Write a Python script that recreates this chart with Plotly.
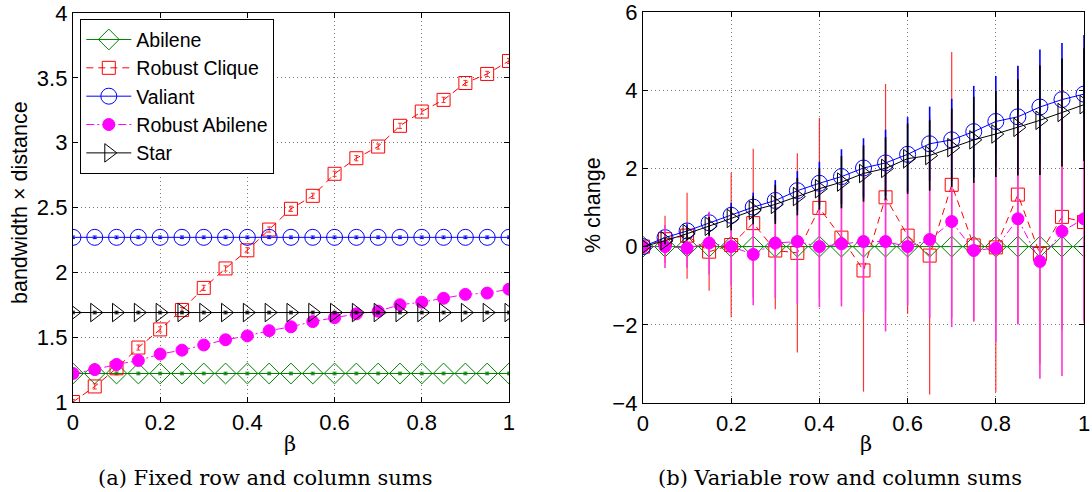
import plotly.graph_objects as go

# beta values (x axis, both panels)
beta = [0, 0.05, 0.1, 0.15, 0.2, 0.25, 0.3, 0.35, 0.4, 0.45, 0.5,
        0.55, 0.6, 0.65, 0.7, 0.75, 0.8, 0.85, 0.9, 0.95, 1.0]

names = ["Abilene", "Robust Clique", "Valiant", "Robust Abilene", "Star"]

# (a) fixed row and column sums: bandwidth x distance
fixed_abilene = [1.22] * 21
fixed_clique = [1.00, 1.12, 1.26, 1.42, 1.56, 1.71, 1.88, 2.03, 2.17, 2.33, 2.49,
                2.59, 2.76, 2.88, 2.97, 3.13, 3.24, 3.33, 3.46, 3.53, 3.63]
fixed_valiant = [2.27] * 21
fixed_robust_abilene = [1.22, 1.25, 1.29, 1.32, 1.37, 1.40, 1.44, 1.48, 1.51, 1.55, 1.58,
                        1.62, 1.65, 1.68, 1.70, 1.75, 1.77, 1.80, 1.83, 1.84, 1.87]
fixed_star = [1.69] * 21
fixed_err_clique = [0.02] * 21
fixed_err_small = [0.01] * 21

# (b) variable row and column sums: % change
var_abilene = [0] * 21
var_clique = [0, 0.19, 0.28, -0.13, 0.04, 0.60, -0.10, -0.16, 0.99, 0.23, -0.61,
              1.26, 0.28, -0.23, 1.58, 0.03, -0.02, 1.33, -0.19, 0.76, 0.63]
var_valiant = [0, 0.23, 0.40, 0.61, 0.80, 1.01, 1.18, 1.43, 1.62, 1.79, 2.01,
               2.14, 2.36, 2.63, 2.73, 2.94, 3.20, 3.32, 3.57, 3.76, 3.90]
var_robust_abilene = [0, 0.0, -0.04, 0.09, 0.0, -0.20, 0.09, 0.13, 0.0, 0.07, 0.13,
                      0.13, 0.0, 0.18, 0.64, -0.10, -0.04, 0.71, -0.38, 0.39, 0.71]
var_star = [0, 0.15, 0.33, 0.52, 0.72, 0.93, 1.08, 1.28, 1.48, 1.65, 1.87,
            2.00, 2.25, 2.33, 2.53, 2.73, 2.88, 3.05, 3.23, 3.43, 3.63]

err_clique = [0, 0.6, 1.1, 1.0, 1.85, 1.9, 1.5, 2.55, 2.3, 1.6, 3.1,
              2.9, 2.0, 3.55, 3.4, 1.95, 3.7, 3.3, 2.8, 2.9, 2.6]
err_valiant = [0, 0.10, 0.17, 0.25, 0.32, 0.37, 0.52, 0.50, 0.55, 0.70, 0.76,
               0.85, 0.95, 0.95, 1.05, 1.17, 1.16, 1.30, 1.47, 1.45, 1.51]
err_robust_abilene = [0, 0.55, 0.5, 0.8, 1.0, 1.3, 1.4, 1.6, 1.55, 1.6, 1.8,
                      2.3, 1.5, 2.0, 2.7, 1.8, 2.4, 2.7, 3.0, 3.7, 2.6]
err_star = [0, 0.09, 0.16, 0.24, 0.30, 0.36, 0.50, 0.48, 0.53, 0.67, 0.72,
            0.80, 0.90, 0.90, 1.00, 1.10, 1.10, 1.23, 1.40, 1.38, 1.44]

styles = [
    dict(color="#008000", symbol="diamond-open", size=16, dash="solid", ecol="#008000", et=1.6),
    dict(color="#ff0000", symbol="square-open", size=13, dash="7px,5px", ecol="rgba(255,0,0,0.8)", et=1.2),
    dict(color="#0000ff", symbol="circle-open", size=16, dash="solid", ecol="#0000ff", et=1.6),
    dict(color="#ff00ff", symbol="circle", size=12, dash="8px,3px,2px,3px", ecol="#ff33dd", et=1.6),
    dict(color="#000000", symbol="triangle-right-open", size=16, dash="solid", ecol="#000000", et=1.6),
]

fixed = [fixed_abilene, fixed_clique, fixed_valiant, fixed_robust_abilene, fixed_star]
fixed_err = [fixed_err_small, fixed_err_clique, fixed_err_small, fixed_err_small, fixed_err_small]
var = [var_abilene, var_clique, var_valiant, var_robust_abilene, var_star]
var_err = [[0] * 21, err_clique, err_valiant, err_robust_abilene, err_star]

SANS = "Liberation Sans, Arial"
SERIF = "DejaVu Serif"

fig = go.Figure()

for i in range(5):
    s = styles[i]
    fig.add_trace(go.Scatter(
        x=beta, y=fixed[i], name=names[i], mode="lines+markers",
        line=dict(color=s["color"], width=1, dash=s["dash"]),
        marker=dict(symbol=s["symbol"], size=s["size"], color=s["color"],
                    line=dict(color=s["color"], width=1)),
        error_y=dict(type="data", array=fixed_err[i], color=s["ecol"], thickness=1, width=2),
        xaxis="x", yaxis="y", showlegend=True))

for i in range(5):
    s = styles[i]
    fig.add_trace(go.Scatter(
        x=beta, y=var[i], name=names[i], mode="lines+markers",
        line=dict(color=s["color"], width=1, dash=s["dash"]),
        marker=dict(symbol=s["symbol"], size=s["size"], color=s["color"],
                    line=dict(color=s["color"], width=1)),
        error_y=dict(type="data", array=var_err[i], color=s["ecol"], thickness=s["et"], width=0),
        xaxis="x2", yaxis="y2", showlegend=False))

axis_common = dict(
    showline=True, linecolor="black", linewidth=1.3, mirror="ticks",
    ticks="inside", ticklen=5, tickcolor="black",
    showgrid=True, gridcolor="#777777", griddash="1px,3px", gridwidth=1,
    zeroline=False, ticklabeloverflow="allow",
    tickfont=dict(family=SANS, size=22, color="black"),
)

fig.update_layout(
    width=1092, height=492,
    margin=dict(l=0, r=0, t=0, b=0, autoexpand=False),
    paper_bgcolor="white", plot_bgcolor="white",
    xaxis=dict(domain=[0.0668, 0.4661], range=[0, 1], tickvals=[0, 0.2, 0.4, 0.6, 0.8, 1],
               ticktext=["0", "0.2", "0.4", "0.6", "0.8", "1"], anchor="y", **axis_common),
    yaxis=dict(domain=[0.1829, 0.9736], range=[1, 4], tickvals=[1, 1.5, 2, 2.5, 3, 3.5, 4],
               ticktext=["1", "1.5", "2", "2.5", "3", "3.5", "4"], anchor="x", **axis_common),
    xaxis2=dict(domain=[0.5888, 0.9927], range=[0, 1], tickvals=[0, 0.2, 0.4, 0.6, 0.8, 1],
                ticktext=["0", "0.2", "0.4", "0.6", "0.8", "1"], anchor="y2", **axis_common),
    yaxis2=dict(domain=[0.1809, 1 - 12 / 492], range=[-4, 6], tickvals=[-4, -2, 0, 2, 4, 6],
                anchor="x2", **axis_common),
    legend=dict(x=80 / 1092, y=1 - 19 / 492, xanchor="left", yanchor="top",
                bgcolor="white", bordercolor="black", borderwidth=1.3,
                font=dict(family=SANS, size=19.5, color="black"),
                tracegroupgap=0, itemwidth=45),
    annotations=[
        dict(text="bandwidth × distance", x=20 / 1092, y=1 - 203 / 492, xref="paper", yref="paper",
             xanchor="center", yanchor="middle", textangle=-90, showarrow=False,
             font=dict(family=SANS, size=21.5, color="black")),
        dict(text="β", x=290 / 1092, y=1 - 444 / 492, xref="paper", yref="paper",
             xanchor="center", yanchor="middle",
             showarrow=False, font=dict(family=SERIF, size=21, color="black")),
        dict(text="(a) Fixed row and column sums", x=265 / 1092, y=1 - 478 / 492,
             xref="paper", yref="paper", xanchor="center", yanchor="middle", showarrow=False,
             font=dict(family=SERIF, size=21, color="black")),
        dict(text="% change", x=593 / 1092, y=1 - 205 / 492, xref="paper", yref="paper",
             xanchor="center", yanchor="middle", textangle=-90, showarrow=False,
             font=dict(family=SANS, size=21.5, color="black")),
        dict(text="β", x=866 / 1092, y=1 - 444 / 492, xref="paper", yref="paper",
             xanchor="center", yanchor="middle",
             showarrow=False, font=dict(family=SERIF, size=21, color="black")),
        dict(text="(b) Variable row and column sums", x=840 / 1092, y=1 - 478 / 492,
             xref="paper", yref="paper", xanchor="center", yanchor="middle", showarrow=False,
             font=dict(family=SERIF, size=21, color="black")),
    ],
)

# drop the default 8px page margin so the figure sits at the window's corner
fig.write_html("out.html", config={"displayModeBar": False},
               post_script="document.body.style.margin='0';")
